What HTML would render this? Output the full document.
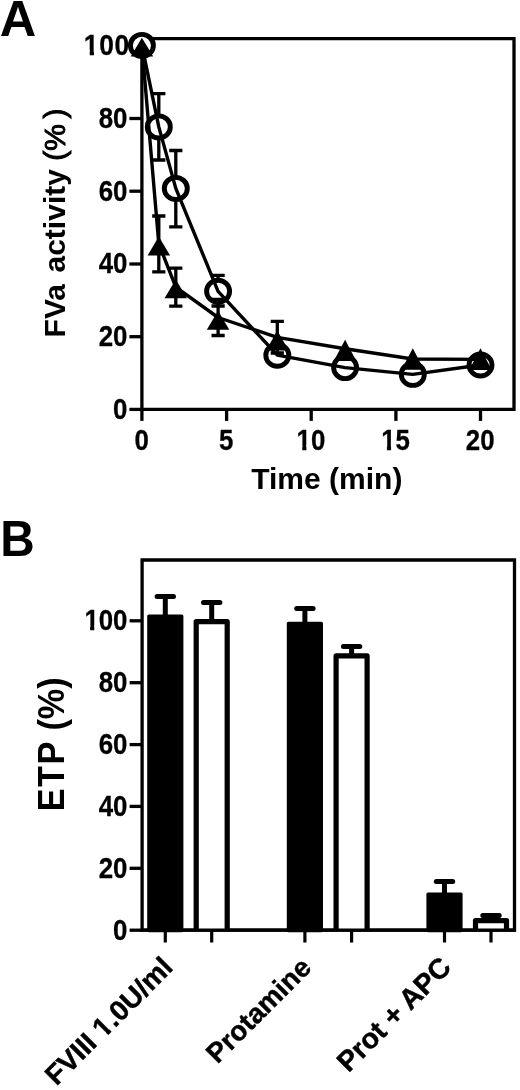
<!DOCTYPE html>
<html lang="en"><head><meta charset="utf-8"><title>Figure</title>
<style>html,body{margin:0;padding:0;background:#fff}svg{display:block}text{font-family:'Liberation Sans', Arial, Helvetica, sans-serif;font-weight:bold;fill:#000}</style></head><body>
<svg width="520" height="1090" viewBox="0 0 520 1090">
<rect width="520" height="1090" fill="#fff"/>
<g>
<g transform="translate(-0.30 36.00)"><text id="t0" font-size="50.50" text-anchor="start">A</text>
</g>
<g transform="translate(0.20 556.20) scale(0.965 1)"><text id="t1" font-size="49.50" text-anchor="start">B</text>
</g>
<g stroke="#000" stroke-width="3.3" fill="none" stroke-linecap="butt">
<path d="M141.9 38.7 H514.0 V409.4 H141.9 Z"/>
<path d="M129.4 409.4 H141.9"/>
<path d="M129.4 336.7 H141.9"/>
<path d="M129.4 264.0 H141.9"/>
<path d="M129.4 191.2 H141.9"/>
<path d="M129.4 118.5 H141.9"/>
<path d="M129.4 45.8 H141.9"/>
<path d="M141.9 409.4 V420.9"/>
<path d="M226.6 409.4 V420.9"/>
<path d="M311.2 409.4 V420.9"/>
<path d="M395.9 409.4 V420.9"/>
<path d="M480.5 409.4 V420.9"/>
</g>
<g transform="translate(127.50 418.80) scale(0.885 1)"><text id="t2" font-size="29.20" text-anchor="end" stroke="#000" stroke-width="0.30" stroke-linejoin="round">0</text>
</g>
<g transform="translate(127.50 346.08) scale(0.885 1)"><text id="t3" font-size="29.20" text-anchor="end" stroke="#000" stroke-width="0.30" stroke-linejoin="round">20</text>
</g>
<g transform="translate(127.50 273.36) scale(0.885 1)"><text id="t4" font-size="29.20" text-anchor="end" stroke="#000" stroke-width="0.30" stroke-linejoin="round">40</text>
</g>
<g transform="translate(127.50 200.64) scale(0.885 1)"><text id="t5" font-size="29.20" text-anchor="end" stroke="#000" stroke-width="0.30" stroke-linejoin="round">60</text>
</g>
<g transform="translate(127.50 127.92) scale(0.885 1)"><text id="t6" font-size="29.20" text-anchor="end" stroke="#000" stroke-width="0.30" stroke-linejoin="round">80</text>
</g>
<g transform="translate(130.00 55.00) scale(0.903 1)"><text id="t7" font-size="29.20" text-anchor="end" stroke="#000" stroke-width="0.30" stroke-linejoin="round" letter-spacing="0.80">100</text>
<rect x="-50.25" y="-5.03" width="5.63" height="6.63" fill="#fff"/>
<rect x="-39.91" y="-5.03" width="5.25" height="6.63" fill="#fff"/>
</g>
<g transform="translate(141.60 450.30) scale(0.885 1)"><text id="t8" font-size="29.20" text-anchor="middle" stroke="#000" stroke-width="0.30" stroke-linejoin="round">0</text>
</g>
<g transform="translate(226.25 450.30) scale(0.885 1)"><text id="t9" font-size="29.20" text-anchor="middle" stroke="#000" stroke-width="0.30" stroke-linejoin="round">5</text>
</g>
<g transform="translate(310.90 450.30) scale(0.885 1)"><text id="t10" font-size="29.20" text-anchor="middle" stroke="#000" stroke-width="0.30" stroke-linejoin="round">10</text>
<rect x="-15.40" y="-5.03" width="5.63" height="6.63" fill="#fff"/>
<rect x="-5.07" y="-5.03" width="5.25" height="6.63" fill="#fff"/>
</g>
<g transform="translate(395.55 450.30) scale(0.885 1)"><text id="t11" font-size="29.20" text-anchor="middle" stroke="#000" stroke-width="0.30" stroke-linejoin="round">15</text>
<rect x="-15.40" y="-5.03" width="5.63" height="6.63" fill="#fff"/>
<rect x="-5.07" y="-5.03" width="5.25" height="6.63" fill="#fff"/>
</g>
<g transform="translate(480.20 450.30) scale(0.885 1)"><text id="t12" font-size="29.20" text-anchor="middle" stroke="#000" stroke-width="0.30" stroke-linejoin="round">20</text>
</g>
<g transform="translate(326.80 489.20)"><text id="t13" font-size="30.00" text-anchor="middle">Time (min)</text>
</g>
<g transform="translate(64.60 337.40) rotate(-90)"><text id="t14" font-size="30.00" text-anchor="start">FVa<tspan dx="3.2"> activity</tspan> <tspan font-weight="normal" stroke="#000" stroke-width="1.0">(%<tspan dx="5.5">)</tspan></tspan></text>
</g>
<path d="M158.8 93.7 V160.0 M152.2 93.7 H165.4 M152.2 160.0 H165.4" stroke="#000" stroke-width="3.3" fill="none"/>
<path d="M175.8 150.5 V226.8 M169.2 150.5 H182.4 M169.2 226.8 H182.4" stroke="#000" stroke-width="3.3" fill="none"/>
<path d="M218.1 275.4 V306.0 M211.5 275.4 H224.7 M211.5 306.0 H224.7" stroke="#000" stroke-width="3.3" fill="none"/>
<ellipse cx="141.9" cy="45.4" rx="11.5" ry="11.0" fill="#fff" stroke="#000" stroke-width="4.9"/>
<ellipse cx="158.8" cy="126.9" rx="11.5" ry="11.0" fill="#fff" stroke="#000" stroke-width="4.9"/>
<ellipse cx="175.8" cy="188.4" rx="11.5" ry="11.0" fill="#fff" stroke="#000" stroke-width="4.9"/>
<ellipse cx="218.1" cy="291.3" rx="11.5" ry="11.0" fill="#fff" stroke="#000" stroke-width="4.9"/>
<ellipse cx="277.3" cy="355.2" rx="11.5" ry="11.0" fill="#fff" stroke="#000" stroke-width="4.9"/>
<ellipse cx="345.1" cy="367.6" rx="11.5" ry="11.0" fill="#fff" stroke="#000" stroke-width="4.9"/>
<ellipse cx="412.8" cy="374.4" rx="11.5" ry="11.0" fill="#fff" stroke="#000" stroke-width="4.9"/>
<ellipse cx="480.5" cy="365.0" rx="11.5" ry="11.0" fill="#fff" stroke="#000" stroke-width="4.9"/>
<polyline points="141.9,45.4 158.8,126.9 175.8,188.4 218.1,291.3 277.3,355.2 345.1,367.6 412.8,374.4 480.5,365.0" stroke="#000" stroke-width="3.4" fill="none" stroke-linejoin="round"/>
<path d="M158.8 216.0 V271.9 M152.2 216.0 H165.4 M152.2 271.9 H165.4" stroke="#000" stroke-width="3.3" fill="none"/>
<path d="M175.8 268.1 V306.2 M169.2 268.1 H182.4 M169.2 306.2 H182.4" stroke="#000" stroke-width="3.3" fill="none"/>
<path d="M218.1 299.5 V335.5 M211.5 299.5 H224.7 M211.5 335.5 H224.7" stroke="#000" stroke-width="3.3" fill="none"/>
<path d="M277.3 321.4 V353.0 M270.7 321.4 H283.9 M270.7 353.0 H283.9" stroke="#000" stroke-width="3.3" fill="none"/>
<path d="M141.9 37.7 L153.2 56.6 L130.7 56.6 Z" fill="#000"/>
<path d="M158.8 236.5 L170.1 255.4 L147.6 255.4 Z" fill="#000"/>
<path d="M175.8 279.6 L187.0 298.3 L164.5 298.3 Z" fill="#000"/>
<path d="M218.1 310.8 L229.3 329.7 L206.8 329.7 Z" fill="#000"/>
<path d="M277.3 330.6 L288.6 350.6 L266.1 350.6 Z" fill="#000"/>
<path d="M345.1 339.8 L356.3 361.0 L333.8 361.0 Z" fill="#000"/>
<path d="M412.8 348.2 L424.0 369.7 L401.5 369.7 Z" fill="#000"/>
<path d="M480.5 348.3 L491.8 369.9 L469.2 369.9 Z" fill="#000"/>
<polyline points="141.9,45.6 158.8,243.9 175.8,287.2 218.1,317.5 277.3,337.4 345.1,348.8 412.8,359.0 480.5,359.4" stroke="#000" stroke-width="3.4" fill="none" stroke-linejoin="round"/>
<g stroke="#000" stroke-width="3.3" fill="none">
<path d="M142.1 560.0 H514.5 L514.5 930.2 H142.1 Z"/>
<path d="M129.6 930.2 H142.1"/>
<path d="M129.6 868.3 H142.1"/>
<path d="M129.6 806.4 H142.1"/>
<path d="M129.6 744.6 H142.1"/>
<path d="M129.6 682.7 H142.1"/>
<path d="M129.6 620.8 H142.1"/>
</g>
<g transform="translate(127.50 939.80) scale(0.885 1)"><text id="t15" font-size="29.20" text-anchor="end" stroke="#000" stroke-width="0.30" stroke-linejoin="round">0</text>
</g>
<g transform="translate(127.50 877.92) scale(0.885 1)"><text id="t16" font-size="29.20" text-anchor="end" stroke="#000" stroke-width="0.30" stroke-linejoin="round">20</text>
</g>
<g transform="translate(127.50 816.04) scale(0.885 1)"><text id="t17" font-size="29.20" text-anchor="end" stroke="#000" stroke-width="0.30" stroke-linejoin="round">40</text>
</g>
<g transform="translate(127.50 754.16) scale(0.885 1)"><text id="t18" font-size="29.20" text-anchor="end" stroke="#000" stroke-width="0.30" stroke-linejoin="round">60</text>
</g>
<g transform="translate(127.50 692.28) scale(0.885 1)"><text id="t19" font-size="29.20" text-anchor="end" stroke="#000" stroke-width="0.30" stroke-linejoin="round">80</text>
</g>
<g transform="translate(127.50 630.40) scale(0.885 1)"><text id="t20" font-size="29.20" text-anchor="end" stroke="#000" stroke-width="0.30" stroke-linejoin="round">100</text>
<rect x="-47.88" y="-5.03" width="5.63" height="6.63" fill="#fff"/>
<rect x="-37.54" y="-5.03" width="5.25" height="6.63" fill="#fff"/>
</g>
<g transform="translate(63.80 811.30) rotate(-90) scale(0.940 1)"><text id="t21" font-size="36.50" text-anchor="start"><tspan letter-spacing="1.6">ETP</tspan> (%)</text>
</g>
<path d="M165.3 616.4 V596.6 M157.1 596.6 H173.5" stroke="#000" stroke-width="5" fill="none" stroke-linecap="round"/>
<rect x="147.2" y="614.4" width="36.2" height="317.8" rx="1.6" fill="#000"/>
<path d="M165.3 930.2 V942.5" stroke="#000" stroke-width="3.2"/>
<path d="M211.7 621.0 V602.6 M203.5 602.6 H219.9" stroke="#000" stroke-width="5" fill="none" stroke-linecap="round"/>
<path d="M196.2 930.2 V621.6 H227.2 V930.2" fill="#fff" stroke="#000" stroke-width="5.2" stroke-linejoin="round"/>
<path d="M211.7 930.2 V942.5" stroke="#000" stroke-width="3.2"/>
<path d="M304.9 623.8 V608.5 M296.7 608.5 H313.1" stroke="#000" stroke-width="5" fill="none" stroke-linecap="round"/>
<rect x="286.8" y="621.8" width="36.2" height="310.4" rx="1.6" fill="#000"/>
<path d="M304.9 930.2 V942.5" stroke="#000" stroke-width="3.2"/>
<path d="M351.6 655.3 V646.5 M343.4 646.5 H359.8" stroke="#000" stroke-width="5" fill="none" stroke-linecap="round"/>
<path d="M336.1 930.2 V655.9 H367.1 V930.2" fill="#fff" stroke="#000" stroke-width="5.2" stroke-linejoin="round"/>
<path d="M351.6 930.2 V942.5" stroke="#000" stroke-width="3.2"/>
<path d="M444.5 894.4 V881.5 M436.3 881.5 H452.7" stroke="#000" stroke-width="5" fill="none" stroke-linecap="round"/>
<rect x="426.4" y="892.4" width="36.2" height="39.8" rx="1.6" fill="#000"/>
<path d="M444.5 930.2 V942.5" stroke="#000" stroke-width="3.2"/>
<path d="M491.0 920.0 V915.4 M482.8 915.4 H499.2" stroke="#000" stroke-width="5" fill="none" stroke-linecap="round"/>
<path d="M475.5 930.2 V920.6 H506.5 V930.2" fill="#fff" stroke="#000" stroke-width="5.2" stroke-linejoin="round"/>
<path d="M491.0 930.2 V942.5" stroke="#000" stroke-width="3.2"/>
<path d="M140.6 930.2 H516.0" stroke="#000" stroke-width="3.3"/>
<g transform="translate(174.30 968.80) rotate(-45)"><text id="t22" font-size="28.00" text-anchor="end" stroke="#000" stroke-width="0.45" stroke-linejoin="round">FVIII 1.0U/ml</text>
<rect x="-98.85" y="-4.98" width="5.35" height="6.58" fill="#fff"/>
<rect x="-88.81" y="-4.98" width="4.98" height="6.58" fill="#fff"/>
</g>
<g transform="translate(312.80 969.20) rotate(-45)"><text id="t23" font-size="27.60" text-anchor="end" stroke="#000" stroke-width="0.45" stroke-linejoin="round">Protamine</text>
</g>
<g transform="translate(452.80 968.90) rotate(-45)"><text id="t24" font-size="28.30" text-anchor="end" stroke="#000" stroke-width="0.45" stroke-linejoin="round">Prot + APC</text>
</g>
</g>
</svg></body></html>
